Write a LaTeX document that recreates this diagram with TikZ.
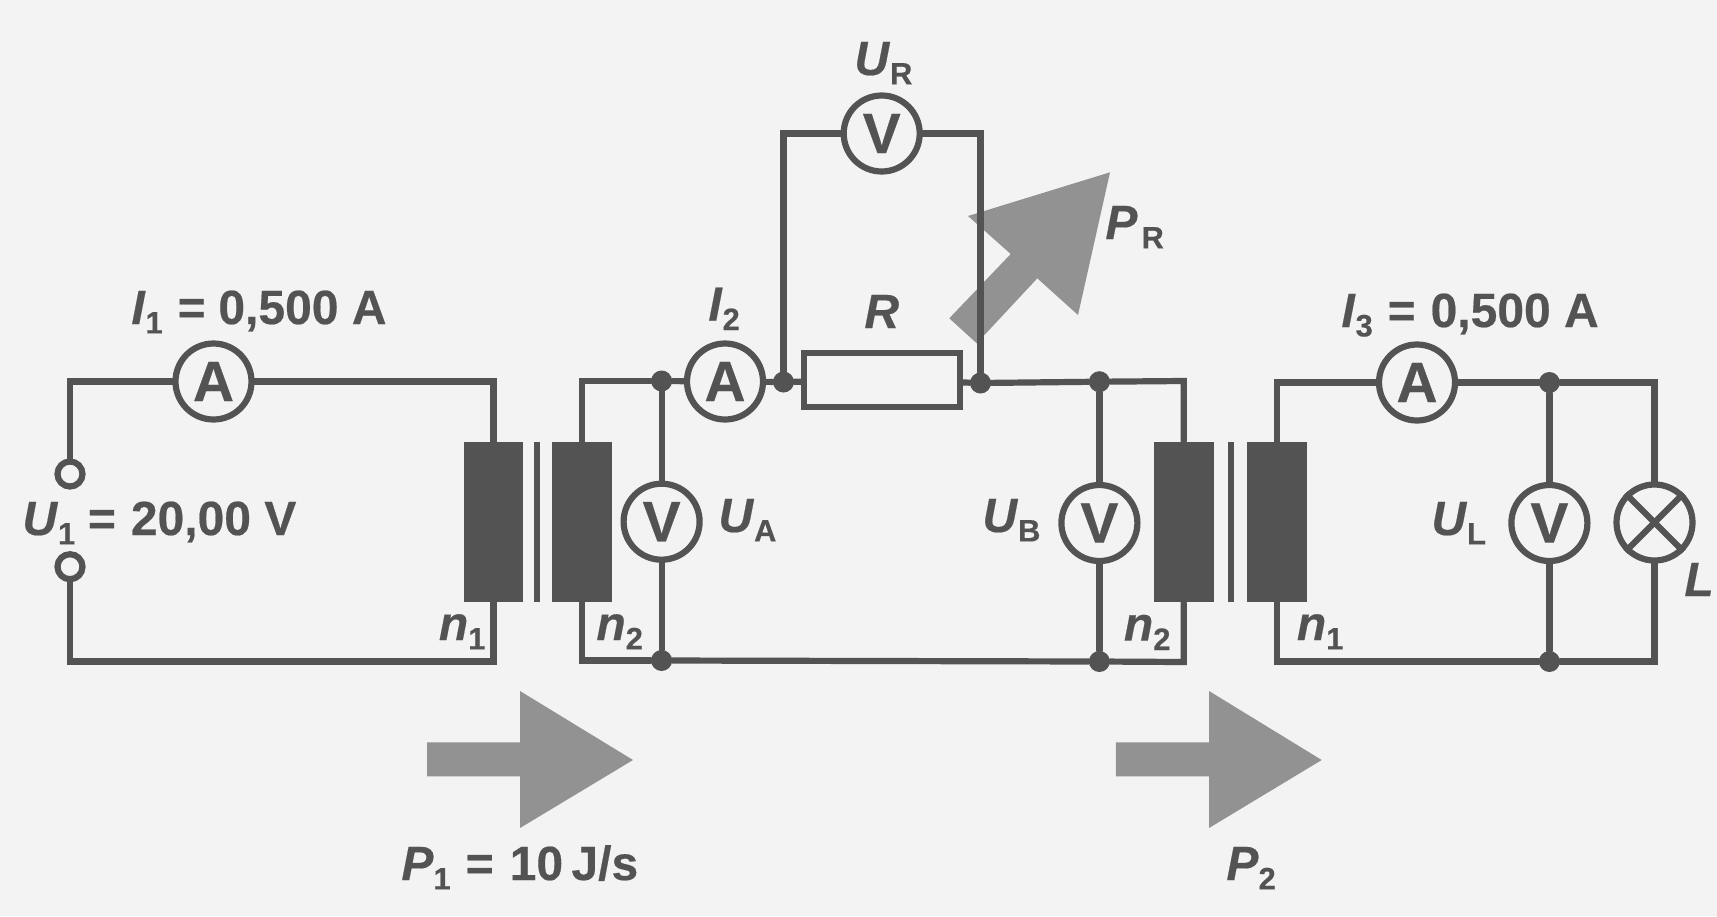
\documentclass[tikz,border=0pt]{standalone}
\usepackage{fontspec}
\setmainfont{Liberation Sans}[BoldFeatures={FakeBold=0.4},BoldItalicFeatures={FakeBold=0.4}]
\definecolor{ink}{HTML}{535353}
\definecolor{paper}{HTML}{F3F3F3}
\definecolor{flow}{HTML}{929292}
\newcommand\sbs[1]{\raisebox{-4.7pt}{\fontsize{15.5}{15.5}\selectfont #1}}
\newcommand\vr[1]{\textit{#1}}
\tikzset{
  wire/.style={draw=ink,line width=3.1pt,line cap=round},
  meter/.style={circle,draw=ink,line width=3.1pt,fill=paper,minimum size=38pt,inner sep=0pt,text=ink,font=\fontsize{28.5}{28.5}\selectfont\bfseries},
  terminal/.style={circle,draw=ink,line width=3.1pt,fill=paper,minimum size=12.5pt,inner sep=0pt},
  joint/.style={circle,fill=ink,minimum size=10.5pt,inner sep=0pt},
  coil/.style={rectangle,fill=ink,minimum width=29.8pt,minimum height=80.3pt,inner sep=0pt},
  core/.style={rectangle,fill=ink,minimum width=3pt,minimum height=80.3pt,inner sep=0pt},
  resistor/.style={rectangle,draw=ink,line width=3.1pt,fill=paper,minimum width=78pt,minimum height=27pt,inner sep=0pt},
  lab/.style={anchor=base west,inner sep=0pt,text=ink,font=\fontsize{24}{24}\selectfont\bfseries},
  flowarrow/.style={fill=flow,draw=none}
}
\begin{document}
\begin{tikzpicture}[x=0.5pt,y=-0.5pt]
\useasboundingbox (0,0) rectangle (1717,916);
\fill[paper] (0,0) rectangle (1717,916);
% power arrows
\fill[flowarrow] (427,742.4) -- (520,742.4) -- (520,691) -- (633,760) -- (520,828) -- (520,776.4) -- (427,776.4) -- cycle;
\fill[flowarrow] (1115.8,742.4) -- (1209,742.4) -- (1209,691) -- (1321.7,760) -- (1209,828) -- (1209,776.4) -- (1115.8,776.4) -- cycle;
\fill[flowarrow] (1110,172.3) -- (1078,315) -- (1037.3,278.3) -- (976.7,343.3) -- (949.3,318.3) -- (1010.7,254) -- (968,216) -- cycle;
% corners
\coordinate (topA) at (70,381.5);
\coordinate (botA0) at (70,661.5);
\coordinate (botA) at (493.5,661.5);
\coordinate (topA1) at (493.5,381.5);
\coordinate (topB) at (581.8,381);
\coordinate (botB) at (581.8,660.5);
\coordinate (topC) at (1183.7,381);
\coordinate (botC) at (1183.7,662);
\coordinate (topD) at (1276.8,382.5);
\coordinate (botD) at (1276.8,661.5);
\coordinate (topE) at (1654.5,381);
\coordinate (botE) at (1654.5,661.5);
\coordinate (topR) at (783.5,133.5);
\coordinate (topS) at (980.5,133.5);
% components
\node[coil] (coilA) at (493.5,522) {};
\node[core] (coreA) at (537.2,522) {};
\node[coil] (coilB) at (581.8,522) {};
\node[coil] (coilC) at (1183.7,522) {};
\node[core] (coreB) at (1231.3,522) {};
\node[coil] (coilD) at (1276.8,522) {};
\node[terminal] (termA) at (70,474) {};
\node[terminal] (termB) at (70,566.7) {};
\node[meter] (ampA) at (213.5,381.5) {A};
\node[meter] (ampB) at (725,381.5) {A};
\node[meter] (ampC) at (1417,382.5) {A};
\node[meter] (voltA) at (661.6,521.7) {V};
\node[meter] (voltB) at (1099.4,523) {V};
\node[meter] (voltL) at (1549.4,523) {V};
\node[meter] (voltR) at (881.7,133.5) {V};
\node[meter] (lamp) at (1654.5,522.5) {};
\node[resistor] (res) at (881.8,380) {};
\node[joint] (jA) at (661.6,381) {};
\node[joint] (jB) at (783.5,382) {};
\node[joint] (jC) at (980.5,383) {};
\node[joint] (jD) at (1099.4,381.7) {};
\node[joint] (jE) at (1549.4,382.5) {};
\node[joint] (jF) at (661.6,660.5) {};
\node[joint] (jG) at (1099.4,661.5) {};
\node[joint] (jH) at (1549.4,661.5) {};
% wires
\draw[wire] (termA) -- (topA) -- (ampA);
\draw[wire] (ampA) -- (topA1) -- (coilA);
\draw[wire] (termB) -- (botA0) -- (botA) -- (coilA);
\draw[wire] (coilB) -- (topB) -- (jA);
\draw[wire] (jA) -- (ampB);
\draw[wire] (ampB) -- (jB);
\draw[wire] (jB) -- (res);
\draw[wire] (res) -- (jC);
\draw[wire] (jC) -- (jD);
\draw[wire] (jD) -- (topC) -- (coilC);
\draw[wire] (jA) -- (voltA);
\draw[wire] (voltA) -- (jF);
\draw[wire] (coilB) -- (botB) -- (jF);
\draw[wire] (jF) -- (jG);
\draw[wire] (jG) -- (botC) -- (coilC);
\draw[wire] (jD) -- (voltB);
\draw[wire] (voltB) -- (jG);
\draw[wire] (jB) -- (topR) -- (voltR);
\draw[wire] (voltR) -- (topS) -- (jC);
\draw[wire] (coilD) -- (topD) -- (ampC);
\draw[wire] (ampC) -- (jE);
\draw[wire] (jE) -- (topE |- jE) -- (lamp);
\draw[wire] (jE) -- (voltL);
\draw[wire] (voltL) -- (jH);
\draw[wire] (lamp) -- (botE) -- (jH);
\draw[wire] (jH) -- (botD) -- (coilD);
\draw[wire,line cap=butt] (lamp.45) -- (lamp.225);
\draw[wire,line cap=butt] (lamp.135) -- (lamp.315);
% labels
\node[lab] (tIa) at (131,324) {\vr{I}\sbs{1}\hspace{7.4pt}=\hspace{6.4pt}0,500 A};
\node[lab] (tUa) at (22,535) {\vr{U}\sbs{1}\hspace{6.3pt}=\hspace{7.5pt}20,00 V};
\node[lab] (tIb) at (708,320.7) {\vr{I}\sbs{2}};
\node[lab] (tUr) at (854,75) {\vr{U}\sbs{R}};
\node[lab] (tR) at (864,328) {\vr{R}};
\node[lab] (tPr) at (1105,239) {\vr{P}\hspace{2pt}\sbs{R}};
\node[lab] (tIc) at (1341,327) {\vr{I}\sbs{3}\hspace{7.4pt}=\hspace{7.5pt}0,500 A};
\node[lab] (tUA) at (718,532) {\vr{U}\sbs{A}};
\node[lab] (tUB) at (982,532) {\vr{U}\sbs{B}};
\node[lab] (tUL) at (1431,535) {\vr{U}\sbs{L}};
\node[lab] (tnA) at (438.5,640) {\vr{n}\sbs{1}};
\node[lab] (tnB) at (596,640) {\vr{n}\sbs{2}};
\node[lab] (tnC) at (1123.5,640.6) {\vr{n}\sbs{2}};
\node[lab] (tnD) at (1296.5,640) {\vr{n}\sbs{1}};
\node[lab] (tL) at (1684,596) {\vr{L}};
\node[lab] (tPa) at (401,880) {\vr{P}\sbs{1}\hspace{7.5pt}=\hspace{8pt}10\hspace{-2.5pt} J/s};
\node[lab] (tPb) at (1226,880) {\vr{P}\sbs{2}};
\end{tikzpicture}
\end{document}
